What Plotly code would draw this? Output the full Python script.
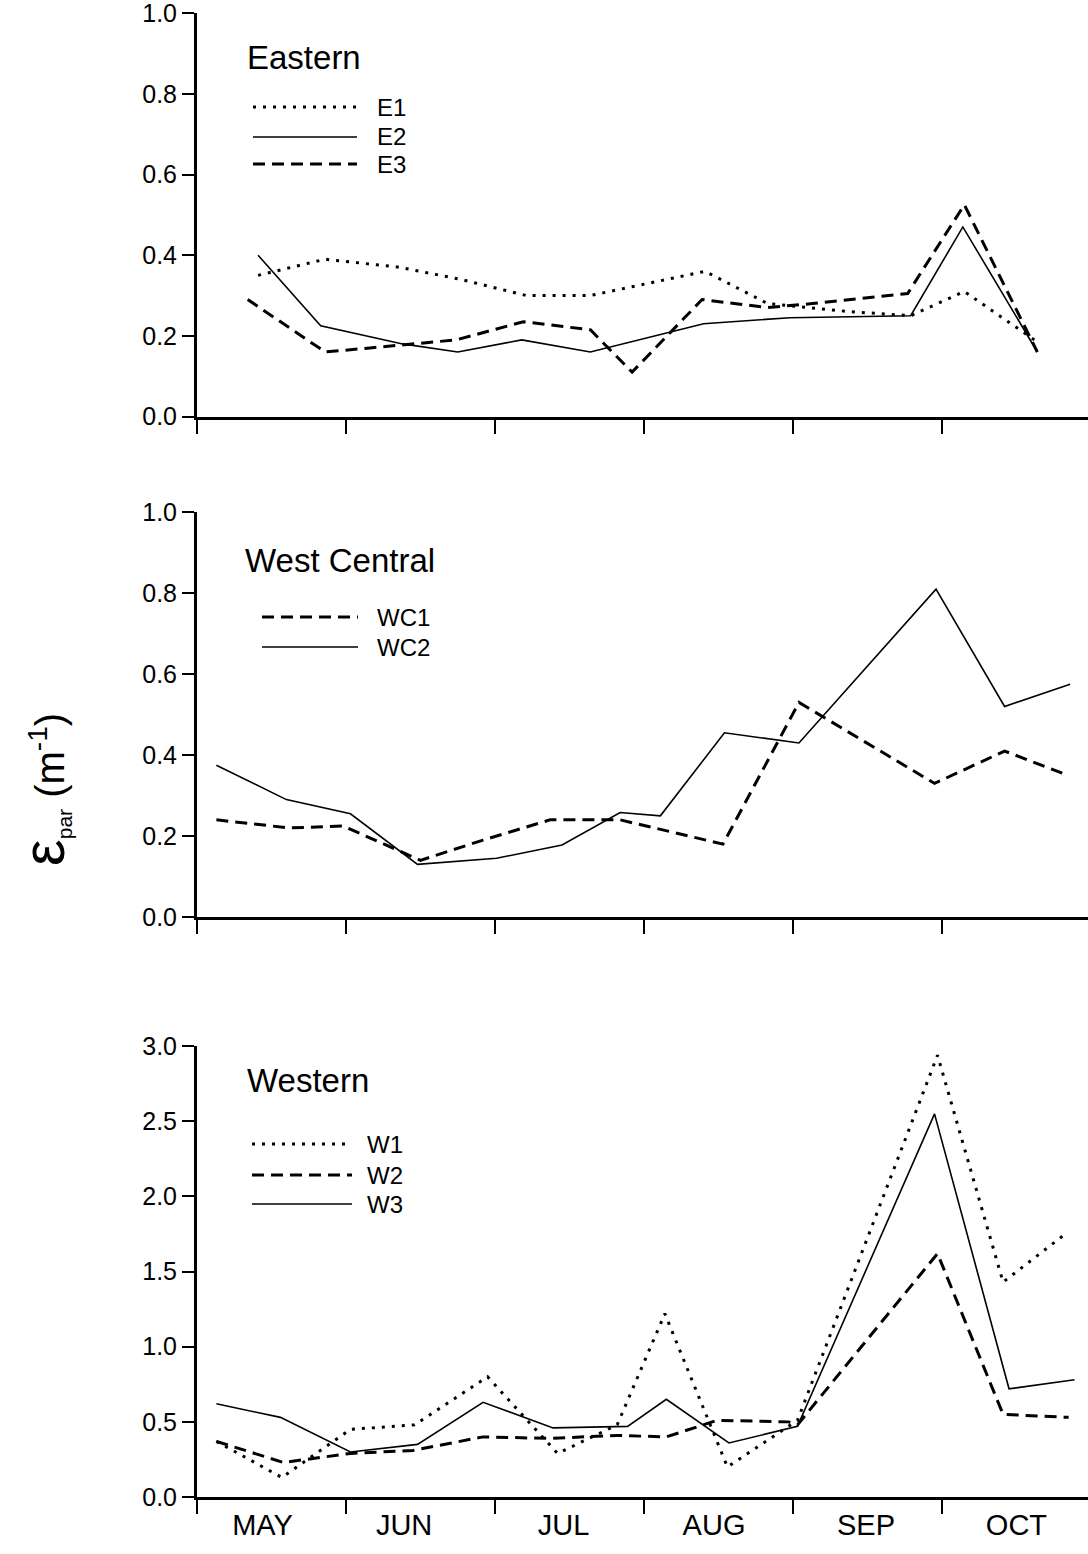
import plotly.graph_objects as go

# ---------------- data (x in months since 1 May; 0 = MAY start) ----------------
months = ["MAY", "JUN", "JUL", "AUG", "SEP", "OCT"]
month_label_pos = [0.44, 1.39, 2.46, 3.47, 4.49, 5.50]
month_starts = [0, 1, 2, 3, 4, 5]
y_ticks_small = [0.0, 0.2, 0.4, 0.6, 0.8, 1.0]
y_ticks_large = [0.0, 0.5, 1.0, 1.5, 2.0, 2.5, 3.0]

E1_x = [0.41, 0.86, 1.36, 1.77, 2.21, 2.64, 3.41, 3.83, 4.38, 4.79, 5.15, 5.62]
E1_y = [0.35, 0.39, 0.37, 0.34, 0.30, 0.30, 0.36, 0.28, 0.26, 0.25, 0.31, 0.19]
E2_x = [0.41, 0.83, 1.38, 1.75, 2.18, 2.64, 3.40, 3.98, 4.79, 5.14, 5.64]
E2_y = [0.40, 0.225, 0.18, 0.16, 0.19, 0.16, 0.23, 0.245, 0.25, 0.47, 0.16]
E3_x = [0.34, 0.86, 1.16, 1.74, 2.19, 2.64, 2.92, 3.39, 3.83, 4.13, 4.77, 5.15, 5.64]
E3_y = [0.29, 0.16, 0.17, 0.19, 0.235, 0.215, 0.11, 0.29, 0.27, 0.28, 0.305, 0.525, 0.16]

WC1_x = [0.13, 0.62, 0.98, 1.50, 1.92, 2.37, 2.84, 3.53, 4.04, 4.95, 5.42, 5.81]
WC1_y = [0.24, 0.22, 0.225, 0.14, 0.19, 0.24, 0.24, 0.18, 0.53, 0.33, 0.41, 0.355]
WC2_x = [0.13, 0.60, 1.03, 1.48, 2.01, 2.45, 2.84, 3.11, 3.54, 4.04, 4.96, 5.42, 5.86]
WC2_y = [0.375, 0.29, 0.255, 0.13, 0.145, 0.178, 0.258, 0.25, 0.455, 0.43, 0.81, 0.52, 0.575]

W1_x = [0.13, 0.57, 1.03, 1.46, 1.95, 2.42, 2.82, 3.14, 3.56, 4.03, 4.97, 5.41, 5.84]
W1_y = [0.37, 0.13, 0.45, 0.48, 0.80, 0.29, 0.48, 1.22, 0.20, 0.51, 2.94, 1.43, 1.76]
W2_x = [0.13, 0.58, 1.03, 1.45, 1.92, 2.37, 2.82, 3.15, 3.49, 3.97, 4.03, 4.97, 5.41, 5.85]
W2_y = [0.37, 0.23, 0.29, 0.31, 0.40, 0.39, 0.41, 0.40, 0.51, 0.50, 0.48, 1.62, 0.55, 0.53]
W3_x = [0.13, 0.56, 1.03, 1.48, 1.92, 2.39, 2.89, 3.15, 3.57, 4.03, 4.95, 5.45, 5.89]
W3_y = [0.62, 0.53, 0.30, 0.35, 0.63, 0.46, 0.47, 0.65, 0.36, 0.47, 2.55, 0.72, 0.78]

# ---------------- styling ----------------
W, H = 1088, 1554
FONT = "Liberation Sans, Arial, Helvetica, sans-serif"
LINE = {
    "dot": dict(color="black", width=3, dash="3px,7px"),
    "dash": dict(color="black", width=3, dash="12px,7px"),
    "solid": dict(color="black", width=1.6),
}

def px_x(p):
    return p / W

def px_y(p):
    return (H - p) / H

panels = [
    dict(title="Eastern", title_xy=(245, 57), ax="", yrange=[0, 1.0], yticks=y_ticks_small,
         ydom=[px_y(416.5), px_y(13)],
         series=[("E1", E1_x, E1_y, "dot"), ("E2", E2_x, E2_y, "solid"), ("E3", E3_x, E3_y, "dash")],
         leg_x=(253, 357, 375), leg_y=[107, 137, 164]),
    dict(title="West Central", title_xy=(243, 560), ax="2", yrange=[0, 1.0], yticks=y_ticks_small,
         ydom=[px_y(917), px_y(512)],
         series=[("WC1", WC1_x, WC1_y, "dash"), ("WC2", WC2_x, WC2_y, "solid")],
         leg_x=(262, 358, 375), leg_y=[617, 647]),
    dict(title="Western", title_xy=(245, 1080), ax="3", yrange=[0, 3.0], yticks=y_ticks_large,
         ydom=[px_y(1497), px_y(1046)],
         series=[("W1", W1_x, W1_y, "dot"), ("W2", W2_x, W2_y, "dash"), ("W3", W3_x, W3_y, "solid")],
         leg_x=(252, 352, 365), leg_y=[1144, 1175, 1204]),
]

fig = go.Figure()
shapes, annotations = [], []
layout = {}

for i, p in enumerate(panels):
    ax = p["ax"]
    for name, xs, ys, style in p["series"]:
        fig.add_trace(go.Scatter(x=xs, y=ys, mode="lines", name=name, line=LINE[style],
                                 xaxis="x" + ax, yaxis="y" + ax, showlegend=False))
    is_bottom = (i == len(panels) - 1)
    layout["xaxis" + ax] = dict(
        domain=[px_x(197), 1.0], range=[0, 5.98], anchor="y" + ax, automargin=False,
        showline=True, linecolor="black", linewidth=3, showgrid=False, zeroline=False,
        tickmode="array", tickvals=month_label_pos, ticktext=months, ticks="",
        showticklabels=is_bottom, tickfont=dict(family=FONT, size=29, color="black"),
        minor=dict(tickmode="array", tickvals=month_starts, ticks="outside", ticklen=14,
                   tickwidth=2, tickcolor="black", showgrid=False),
    )
    layout["yaxis" + ax] = dict(
        domain=p["ydom"], range=[p["yrange"][0], p["yrange"][1] * 1.0005], anchor="x" + ax,
        automargin=False, ticklabeloverflow="allow",
        showline=True, linecolor="black", linewidth=3, showgrid=False, zeroline=False,
        tickmode="array", tickvals=p["yticks"], tickformat=".1f",
        ticks="outside", ticklen=12, tickwidth=2, tickcolor="black",
        tickfont=dict(family=FONT, size=25, color="black"),
    )
    # panel title
    tx, ty = p["title_xy"]
    annotations.append(dict(text=p["title"], x=px_x(tx), y=px_y(ty), xref="paper", yref="paper",
                            xanchor="left", yanchor="middle", showarrow=False,
                            font=dict(family=FONT, size=33, color="black")))
    # legend keys
    lx0, lx1, ltx = p["leg_x"]
    for (name, _, _, style), ly in zip(p["series"], p["leg_y"]):
        shapes.append(dict(type="line", xref="paper", yref="paper",
                           x0=px_x(lx0), x1=px_x(lx1), y0=px_y(ly), y1=px_y(ly), line=LINE[style]))
        annotations.append(dict(text=name, x=px_x(ltx), y=px_y(ly), xref="paper", yref="paper",
                                xanchor="left", yanchor="middle", showarrow=False,
                                font=dict(family=FONT, size=24, color="black")))

# y-axis title
annotations.append(dict(
    text='<span style="font-size:60px">ε</span><sub><span style="font-size:21px">par</span></sub> (m<sup>-1</sup>)',
    x=px_x(44), y=px_y(790), xref="paper", yref="paper", textangle=-90,
    xanchor="center", yanchor="middle", showarrow=False,
    font=dict(family=FONT, size=40, color="black")))

fig.update_layout(
    width=W, height=H, margin=dict(l=0, r=0, t=0, b=0, autoexpand=False),
    paper_bgcolor="white", plot_bgcolor="white",
    shapes=shapes, annotations=annotations, showlegend=False, **layout,
)

fig.write_html("out.html")
